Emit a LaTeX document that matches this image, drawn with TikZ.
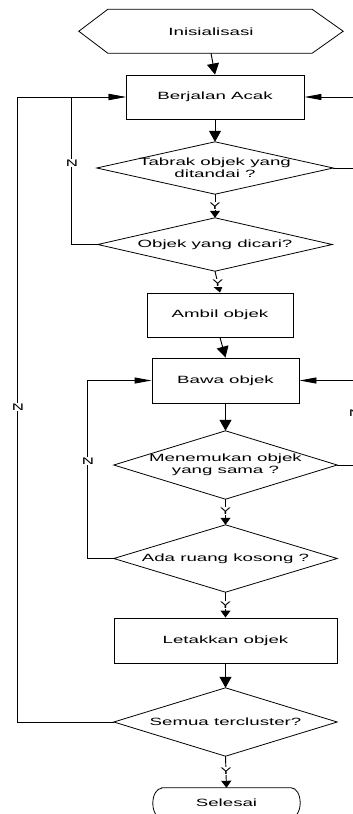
\documentclass[tikz,border=0pt]{standalone}
\usepackage{fontspec}
\setmainfont{Liberation Sans}
\usepackage{graphicx}
\usetikzlibrary{arrows.meta,calc}
\newcommand{\st}[1]{\scalebox{1.78}[1]{#1}}
\newcommand{\fs}{\fontsize{10.5}{12}\selectfont}
\newcommand{\fl}{\fontsize{9.5}{11}\selectfont}
\begin{document}
\begin{tikzpicture}[x=1pt,y=-1pt,
  box/.style={draw, line width=0.95pt, inner sep=0pt, font=\fs},
  dia/.style={inner sep=0pt, font=\fs, align=center},
  dline/.style={line width=0.8pt},
  lbl/.style={fill=white, inner sep=1pt, font=\fl},
  conn/.style={line width=0.95pt},
  va/.style={conn, -{Triangle[length=11pt,width=12pt]}},
  ha/.style={conn, -{Triangle[length=17pt,width=6pt]}},
  sa/.style={conn, -{Triangle[length=7pt,width=10pt]}}]
\useasboundingbox (0,0) rectangle (353,814);
\clip (0,0) rectangle (353,814);
\fill[white] (0,0) rectangle (353,814);

% start
\node[dia, minimum width=264pt, minimum height=43.5pt] (init) at (211,31.25) {\st{Inisialisasi}};
\draw[dline] (init.west) -- ($(init.north west)+(29,0)$) -- ($(init.north east)+(-31,0)$) -- (init.east)
  -- ($(init.south east)+(-31,0)$) -- ($(init.south west)+(29,0)$) -- cycle;

% boxes
\node[box, minimum width=178pt, minimum height=44pt] (walk) at (215,97) {\st{Berjalan Acak}};
\node[box, minimum width=146pt, minimum height=44pt] (ambil) at (220,315) {\st{Ambil objek}};
\node[box, minimum width=147pt, minimum height=45pt] (bawa) at (225.5,380.5) {\st{Bawa objek}};
\node[box, minimum width=223pt, minimum height=45pt] (letak) at (225.5,640.5) {\st{Letakkan objek}};

% diamonds
\node[dia, minimum width=236pt, minimum height=52pt] (d1) at (215,168) {\st{Tabrak objek yang}\\\st{ditandai ?}};
\node[dia, minimum width=234pt, minimum height=53pt] (d2) at (215,244.5) {\st{Objek yang dicari?}};
\node[dia, minimum width=223pt, minimum height=68pt] (d3) at (225.5,465) {\st{Menemukan objek}\\\st{yang sama ?}};
\node[dia, minimum width=223pt, minimum height=67pt] (d4) at (225.5,558.5) {\st{Ada ruang kosong ?}};
\node[dia, minimum width=223pt, minimum height=68pt] (d5) at (225.5,722) {\st{Semua tercluster?}};
\foreach \d in {d1,d2,d3,d4,d5}
  \draw[dline] (\d.west) -- (\d.north) -- (\d.east) -- (\d.south) -- cycle;

% end
\node[dia, minimum width=147pt, minimum height=30pt] (end) at (226.5,803) {\st{Selesai}};
\draw[dline] ($(end.north west)+(9,0)$) -- ($(end.north east)+(-9,0)$)
  arc[start angle=-90, end angle=90, x radius=9, y radius=15]
  -- ($(end.south west)+(9,0)$)
  arc[start angle=90, end angle=270, x radius=9, y radius=15] -- cycle;

% main flow
\draw[va] (init.south) -- (walk.north);
\draw[va] (walk.south) -- (d1.north);
\draw[sa] (d1.south) -- node[lbl, pos=0.5] (y1) {\st{Y}} (d2.north);
\draw[sa] (d2.south) -- node[lbl, pos=0.55] (y2) {\st{Y}} (ambil.north);
\draw[va] (ambil.south) -- (bawa.north);
\draw[va] (bawa.south) -- (d3.north);
\draw[sa] (d3.south) -- node[lbl, pos=0.46] (y3) {\st{Y}} (d4.north);
\draw[sa] (d4.south) -- node[lbl, pos=0.5] (y4) {\st{Y}} (letak.north);
\draw[va] (letak.south) -- (d5.north);
\draw[sa] (d5.south) -- node[lbl, pos=0.47] (y5) {\st{Y}} (end.north);

% left loops
\draw[ha] (d2.west) -- ++(-26,0) |- (walk.west);
\node[lbl] (n1) at (72,163) {\st{N}};
\draw[ha] (d5.west) -- ++(-96,0) |- (walk.west);
\node[lbl] (n2) at (18,407) {\st{N}};
\draw[ha] (d4.west) -- ++(-26,0) |- (bawa.west);
\node[lbl] (n3) at (88,461) {\st{N}};

% right side (cut off at the picture's edge, as in the reference)
\coordinate (r0) at (370,97);
\coordinate (r1) at (370,168);
\coordinate (r2) at (370,380.5);
\coordinate (r3) at (370,465);
\draw[ha] (r0) -- (walk.east);
\draw[conn] (d1.east) -- (r1);
\draw[ha] (r2) -- (bawa.east);
\draw[conn] (d3.east) -- (r3);
\node[lbl] (n4) at (358,126) {\st{N}};
\node[lbl] (n5) at (355,413) {\st{N}};
\end{tikzpicture}
\end{document}
